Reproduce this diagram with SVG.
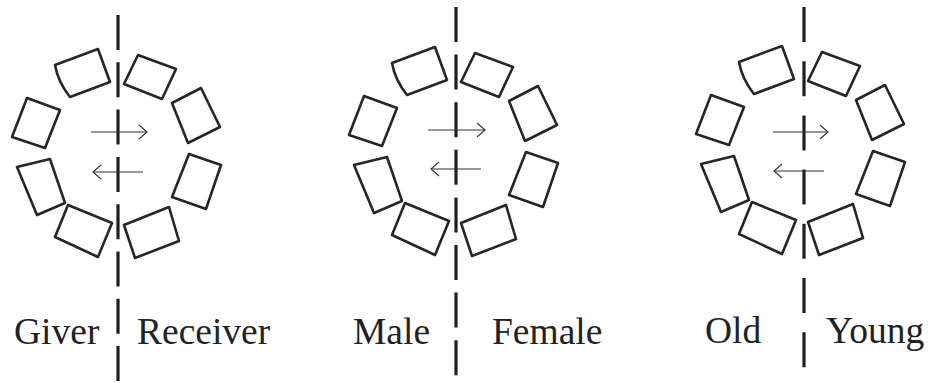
<svg xmlns="http://www.w3.org/2000/svg" width="928" height="383" viewBox="0 0 928 383">
<style>
.bg{fill:#ffffff}
.seat{fill:none;stroke:#262626;stroke-width:2.6;stroke-linejoin:round}
.div{stroke:#1e1e1e;stroke-width:3.2;fill:none}
.arr{stroke:#333333;stroke-width:1.1;fill:none}
.lbl{font-family:"Liberation Serif","Times New Roman",serif;font-size:37.5px;fill:#222222}
</style>
<defs>
<marker id="head" viewBox="0 0 10 16" markerWidth="10" markerHeight="16" refX="9" refY="8" orient="auto" markerUnits="userSpaceOnUse">
<path d="M1,1 L9,8 L1,15" fill="none" stroke="#333333" stroke-width="1.1"/>
</marker>
<g id="ring">
<path class="seat" d="M55,65 L98,49 L110,82 L70,97 Q58,82 55,65 Z"/>
<path class="seat" d="M27,98 L60,110 L45,148 L12,137 Z"/>
<path class="seat" d="M17,167 L50,159 L65,203 L37,215 Z"/>
<path class="seat" d="M68,205 L112,223 L98,257 L55,237 Z"/>
<path class="seat" d="M138,55 L176,69 L162,99 L124,84 Z"/>
<path class="seat" d="M172,103 L201,88 L220,127 L188,143 Z"/>
<path class="seat" d="M189,154 L221,165 L206,209 L172,197 Z"/>
<path class="seat" d="M124,225 L169,207 L179,241 L135,258 Z"/>
</g>
</defs>
<rect class="bg" x="0" y="0" width="928" height="383"/>
<g id="panel-giver-receiver">
<use href="#ring"/>
<text class="lbl" x="14" y="344">Giver</text>
<text class="lbl" x="137" y="344">Receiver</text>
</g>
<g id="panel-male-female">
<use href="#ring" transform="translate(337,-2)"/>
<text class="lbl" x="353" y="344">Male</text>
<text class="lbl" x="492" y="344">Female</text>
</g>
<g id="panel-old-young">
<use href="#ring" transform="translate(684,-3)"/>
<text class="lbl" x="705" y="343">Old</text>
<text class="lbl" x="826" y="343">Young</text>
</g>
<g id="dividers">
<line class="div" x1="118" y1="15" x2="118" y2="383" stroke-dasharray="35 12.3"/>
<line class="div" x1="456" y1="7" x2="456" y2="383" stroke-dasharray="35 12.6"/>
<line class="div" x1="804" y1="7" x2="804" y2="383" stroke-dasharray="35 19.2"/>
</g>
<g id="connectors">
<line class="arr" x1="91" y1="132" x2="147" y2="132" marker-end="url(#head)"/>
<line class="arr" x1="143" y1="172" x2="93" y2="172" marker-end="url(#head)"/>
<line class="arr" x1="428" y1="130" x2="485" y2="130" marker-end="url(#head)"/>
<line class="arr" x1="481" y1="169" x2="431" y2="169" marker-end="url(#head)"/>
<line class="arr" x1="773" y1="132" x2="828" y2="132" marker-end="url(#head)"/>
<line class="arr" x1="824" y1="171" x2="774" y2="171" marker-end="url(#head)"/>
</g>
</svg>
